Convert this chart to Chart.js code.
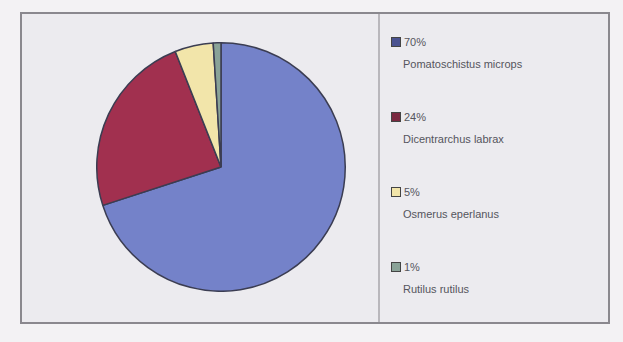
<!DOCTYPE html>
<html>
<head>
<meta charset="utf-8">
<script src="https://cdn.jsdelivr.net/npm/chart.js@4.4.1/dist/chart.umd.min.js"></script>
<style>
    body { margin: 0; width: 623px; height: 342px; background: #f3f2f4; font-family: "Liberation Sans", Arial, sans-serif; }
    #frame { position: absolute; left: 20px; top: 12px; width: 586px; height: 308px; border: 2px solid #8a888e; background: #ecebef; }
    #divider { position: absolute; left: 356px; top: 0; width: 2px; height: 308px; background: #b9b7bc; }
    #pieChart { position: absolute; left: 96px; top: 42px; }
    #legend { position: absolute; left: 391px; top: 36px; color: #55555d; font-size: 11px; }
    .item { height: 75px; }
    .box { display: inline-block; width: 8px; height: 8px; border: 1px solid #444; margin-right: 3px; vertical-align: -1px; }
    .name { margin-left: 12px; margin-top: 10px; }
</style>
</head>
<body>
<div id="frame"><div id="divider"></div></div>
<canvas id="pieChart" width="250" height="250"></canvas>
<div id="legend"></div>
<script>
    // Species share of the catch
    const species = ["Pomatoschistus microps", "Dicentrarchus labrax", "Osmerus eperlanus", "Rutilus rutilus"];
    const percents = [70, 24, 5, 1];
    const colors = ["#7482c9", "#a1304f", "#f2e5aa", "#8aa398"];
    const boxColors = ["#4a5290", "#7a2840", "#f2e5aa", "#8aa398"];

    // Build the legend next to the pie
    const legend = document.getElementById("legend");
    for (let i = 0; i < species.length; i++) {
        const item = document.createElement("div");
        item.className = "item";
        item.innerHTML = `<div><span class="box" style="background:${boxColors[i]}"></span>${percents[i]}%</div>
                          <div class="name">${species[i]}</div>`;
        legend.appendChild(item);
    }

    new Chart(document.getElementById("pieChart"), {
        type: 'pie',
        data: {
            labels: species,
            datasets: [{
                data: percents,
                backgroundColor: colors,
                borderColor: '#3b3d52',
                borderWidth: 1.5,
            }]
        },
        options: {
            responsive: false,
            animation: false,
            layout: { padding: 0 },
            plugins: {
                legend: { display: false },
                tooltip: { enabled: false }
            }
        }
    });
</script>
</body>
</html>
